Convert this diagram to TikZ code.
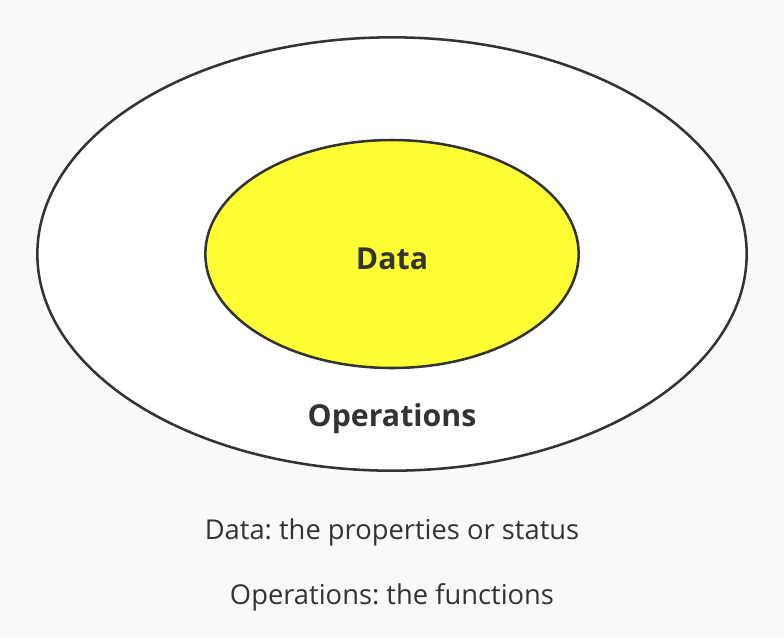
\documentclass[tikz,border=0pt]{standalone}
\usepackage{fontspec}
\setmainfont{Open Sans}
\usepackage{xcolor}
\usetikzlibrary{positioning, shapes.geometric}

\definecolor{inkgray}{HTML}{333333}
\definecolor{pagegray}{HTML}{F9F9F9}
\definecolor{datayellow}{HTML}{FFFF33}
\frenchspacing

\begin{document}
\begin{tikzpicture}[
    x=0.75pt, y=-0.75pt,
    ring/.style={draw=inkgray, ellipse, line width=1.9pt, inner sep=0pt},
    label/.style={text=inkgray, anchor=base, inner sep=0pt},
    heading/.style={label, font=\bfseries\fontsize{22.7}{27}\selectfont},
    caption/.style={label, font=\fontsize{20.5}{24}\selectfont}
]

% Background
\fill[pagegray] (0,0) rectangle (784,637);
\useasboundingbox (0,0) rectangle (784,637);

% Rings
\node[ring, fill=white, minimum width=532pt, minimum height=325pt] (operations_ring) at (392,254) {};
\node[ring, fill=datayellow, minimum width=280pt, minimum height=171pt] (data_ring) at (392,254) {};

% Labels
\node[heading] (data_label) at (392,269) {Data};
\node[heading] (operations_label) at (392,426) {Operations};

% Captions
\node[caption] (data_caption) at (392,539) {Data: the properties or status};
\node[caption] (operations_caption) at (392,604) {Operations: the functions};

\end{tikzpicture}
\end{document}
